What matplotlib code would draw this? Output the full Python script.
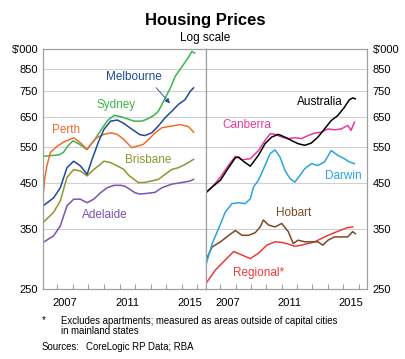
import matplotlib
matplotlib.use("Agg")
import matplotlib.pyplot as plt
import numpy as np

plt.rcParams["font.family"] = ["Liberation Sans", "DejaVu Sans"]

# ---- data ($'000) ----
sydney_t = [2006.09, 2006.6, 2007.1, 2007.4, 2007.7, 2008.0, 2008.4, 2008.9, 2009.36, 2009.79,
            2010.22, 2010.65, 2011.08, 2011.51, 2011.94, 2012.42, 2012.8, 2013.23, 2013.49,
            2013.92, 2014.3, 2014.57, 2015.1, 2015.4, 2015.64, 2015.82]
sydney_v = [523, 525, 527, 535, 555, 570, 560, 543, 571, 604,
            638, 657, 652, 644, 636, 636, 644, 658, 672,
            722, 770, 816, 871, 905, 937, 929]

melb_t = [2006.09, 2006.76, 2007.19, 2007.62, 2008.05, 2008.48, 2008.91, 2009.23, 2009.66, 2009.99,
          2010.42, 2010.85, 2011.28, 2011.6, 2011.99, 2012.3, 2012.63, 2013.06, 2013.49, 2013.92,
          2014.35, 2014.78, 2015.21, 2015.54, 2015.75]
melb_v = [397, 415, 439, 491, 509, 496, 473, 514, 569, 607,
          636, 640, 628, 615, 601, 590, 587, 596, 619, 648,
          672, 698, 717, 751, 765]

perth_t = [2006.09, 2006.2, 2006.33, 2006.55, 2006.98, 2007.41, 2008.05, 2008.5, 2008.91, 2009.25,
           2009.55, 2009.99, 2010.42, 2010.85, 2011.28, 2011.55, 2011.77, 2012.1, 2012.52, 2012.85,
           2013.28, 2013.71, 2014.35, 2014.89, 2015.43, 2015.75]
perth_v = [423, 465, 496, 534, 553, 566, 580, 563, 544, 565,
           580, 591, 596, 591, 574, 560, 549, 553, 559, 574,
           596, 613, 619, 624, 617, 598]

bris_t = [2006.09, 2006.76, 2007.19, 2007.62, 2008.05, 2008.48, 2008.91, 2009.34, 2009.77, 2009.99,
          2010.42, 2010.85, 2011.28, 2011.6, 2012.2, 2012.6, 2013.06, 2013.49, 2013.92, 2014.35,
          2014.78, 2015.21, 2015.75]
bris_v = [362, 383, 408, 465, 486, 482, 469, 486, 500, 509,
          505, 496, 486, 470, 452, 452, 456, 460, 473, 486,
          491, 500, 514]

adel_t = [2006.09, 2006.76, 2007.19, 2007.62, 2008.05, 2008.48, 2008.91, 2009.34, 2009.77, 2010.2,
          2010.63, 2011.06, 2011.34, 2011.99, 2012.3, 2012.63, 2013.28, 2013.71, 2014.35, 2015.0,
          2015.54, 2015.75]
adel_v = [324, 336, 355, 397, 412, 412, 404, 412, 427, 439,
          445, 445, 443, 427, 424, 425, 428, 439, 448, 452,
          456, 460]

aus_t = [2006.08, 2006.48, 2007.02, 2007.5, 2007.99, 2008.2, 2008.5, 2008.96, 2009.49, 2009.92,
         2010.35, 2010.78, 2011.21, 2011.64, 2012.07, 2012.5, 2012.93, 2013.36, 2013.79, 2014.22,
         2014.65, 2015.08, 2015.4, 2015.62, 2015.79]
aus_v = [427, 441, 458, 488, 519, 521, 509, 495, 526, 561,
         582, 591, 582, 571, 561, 556, 563, 582, 609, 638,
         656, 687, 716, 724, 720]

cbr_t = [2006.08, 2006.48, 2007.02, 2007.5, 2007.99, 2008.42, 2008.96, 2009.49, 2009.92, 2010.25,
         2010.57, 2011.0, 2011.43, 2011.86, 2012.29, 2012.72, 2013.15, 2013.58, 2014.01, 2014.44,
         2014.87, 2015.3, 2015.51, 2015.73]
cbr_v = [429, 441, 466, 495, 523, 513, 516, 540, 571, 593,
         591, 582, 577, 580, 577, 587, 595, 598, 609, 606,
         609, 621, 604, 632]

darwin_t = [2006.08, 2006.48, 2006.9, 2007.34, 2007.77, 2008.2, 2008.63, 2008.96, 2009.17, 2009.49,
            2009.92, 2010.25, 2010.57, 2010.89, 2011.21, 2011.54, 2011.86, 2012.18, 2012.5, 2012.93,
            2013.36, 2013.79, 2014.22, 2014.65, 2015.08, 2015.4, 2015.73]
darwin_v = [286, 322, 350, 384, 402, 404, 402, 413, 441, 458,
            497, 531, 542, 521, 484, 462, 453, 470, 488, 502,
            497, 507, 540, 526, 516, 507, 502]

hobart_t = [2006.08, 2006.48, 2007.02, 2007.56, 2007.99, 2008.42, 2008.85, 2009.28, 2009.6, 2009.81,
            2010.14, 2010.57, 2011.0, 2011.43, 2011.75, 2012.07, 2012.5, 2012.93, 2013.36, 2013.68,
            2014.01, 2014.44, 2014.87, 2015.3, 2015.62, 2015.79]
hobart_v = [294, 316, 325, 337, 346, 337, 337, 342, 353, 367,
            357, 353, 360, 344, 322, 328, 325, 325, 325, 319,
            328, 334, 334, 334, 344, 340]

regional_t = [2006.08, 2006.7, 2007.34, 2007.88, 2008.42, 2008.96, 2009.49, 2010.03, 2010.57, 2011.0,
              2011.43, 2011.86, 2012.29, 2012.72, 2013.15, 2013.58, 2014.01, 2014.44, 2014.87, 2015.3,
              2015.62]
regional_v = [258, 278, 294, 308, 302, 296, 305, 319, 325, 324,
              321, 317, 319, 322, 325, 331, 337, 342, 347, 352,
              353]

y_ticks = [250, 350, 450, 550, 650, 750, 850, 950]
y_labels = ["250", "350", "450", "550", "650", "750", "850", "$'000"]
year_labels = [2007, 2011, 2015]

# ---- style ----
W, H = 406, 359
frame_c = "#a0a0a0"
grid_c = "#d0d0d0"
fs = 8

fig = plt.figure(figsize=(W / 100, H / 100), dpi=100)
ax1 = fig.add_axes([43 / W, 1 - 289 / H, 163 / W, 240 / H])
ax2 = fig.add_axes([206 / W, 1 - 289 / H, 161 / W, 240 / H])

for ax in (ax1, ax2):
    ax.set_yscale("log")
    ax.set_ylim(250, 950)
    ax.set_xlim(2006.08, 2016.55)
    ax.set_yticks(y_ticks)
    ax.set_yticklabels(y_labels, fontsize=fs)
    ax.yaxis.set_minor_locator(matplotlib.ticker.NullLocator())
    ax.tick_params(axis="y", length=0, pad=3.5)
    ax.set_xticks([y + 0.5 for y in year_labels])
    ax.set_xticklabels([str(y) for y in year_labels], fontsize=fs)
    ax.set_xticks(np.arange(2007, 2017), minor=True)
    ax.tick_params(axis="x", which="major", length=0, pad=6.5)
    ax.tick_params(axis="x", which="minor", direction="in", length=3.5,
                   width=0.8, color=frame_c)
    for v in y_ticks[1:-1]:
        ax.axhline(v, color=grid_c, lw=0.8, zorder=0)
    for s in ax.spines.values():
        s.set_color(frame_c)
        s.set_linewidth(0.9)

ax2.yaxis.tick_right()
ax2.tick_params(axis="y", length=0, pad=4)

lw = 1.1
left_series = [
    (sydney_t, sydney_v, "#3DB54A", "Sydney", 2010.76, 697),
    (perth_t, perth_v, "#F26B2F", "Perth", 2007.57, 607),
    (bris_t, bris_v, "#8C962E", "Brisbane", 2012.81, 511),
    (adel_t, adel_v, "#7A52B0", "Adelaide", 2010.04, 377),
    (melb_t, melb_v, "#1F4A9C", "Melbourne", 2011.9, 815),
]
for t, v, c, name, lx, ly in left_series:
    ax1.plot(t, v, color=c, lw=lw)
    ax1.text(lx, ly, name, color=c, fontsize=8.5, ha="center", va="center")

ax1.annotate("", xy=(2014.35, 694), xytext=(2013.23, 775),
             arrowprops=dict(arrowstyle="-|>", color="#1F4A9C", lw=0.6,
                             mutation_scale=7))

right_series = [
    (regional_t, regional_v, "#EE3A3A", "Regional*", 2009.49, 274),
    (hobart_t, hobart_v, "#7A4A24", "Hobart", 2011.78, 382),
    (darwin_t, darwin_v, "#27A6E0", "Darwin", 2015.03, 470),
    (cbr_t, cbr_v, "#E8389B", "Canberra", 2008.74, 623),
    (aus_t, aus_v, "#000000", "Australia", 2013.47, 706),
]
for t, v, c, name, lx, ly in right_series:
    ax2.plot(t, v, color=c, lw=lw)
    ax2.text(lx, ly, name, color=c, fontsize=8.5, ha="center", va="center")

# ---- titles and notes ----
fig.text(205 / W, 1 - 20 / H, "Housing Prices", fontsize=12, fontweight="bold",
         ha="center", va="center")
fig.text(205 / W, 1 - 38.5 / H, "Log scale", fontsize=8.5, ha="center", va="center")

fn = 6.9
fig.text(42 / W, 1 - 320 / H, "*", fontsize=fn, ha="left", va="center")
fig.text(61 / W, 1 - 321.5 / H,
         "Excludes apartments; measured as areas outside of capital cities",
         fontsize=fn, ha="left", va="center")
fig.text(61 / W, 1 - 331 / H, "in mainland states", fontsize=fn, ha="left", va="center")
fig.text(42 / W, 1 - 347 / H, "Sources:", fontsize=fn, ha="left", va="center")
fig.text(86 / W, 1 - 347 / H, "CoreLogic RP Data; RBA", fontsize=fn, ha="left", va="center")

fig.savefig("out.png", dpi=100)
